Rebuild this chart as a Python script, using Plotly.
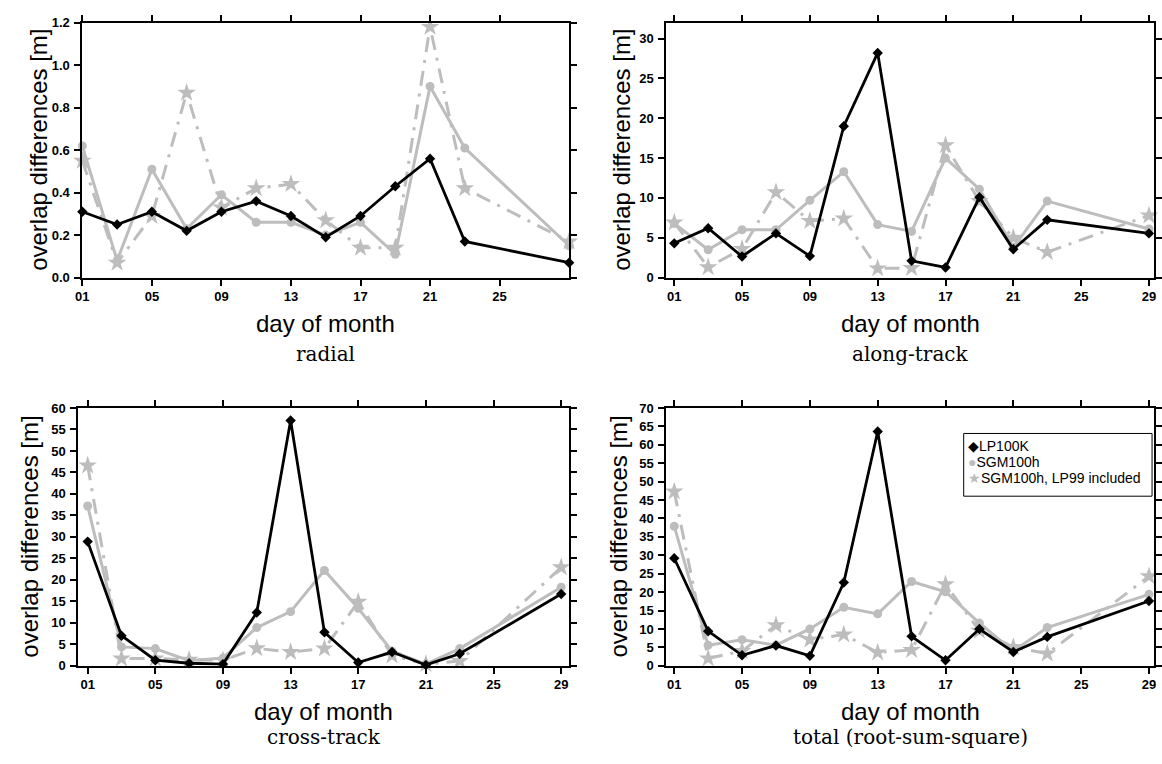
import plotly.graph_objects as go

days = [1, 3, 5, 7, 9, 11, 13, 15, 17, 19, 21, 23, 29]
tick_days = [1, 5, 9, 13, 17, 21, 25, 29]
tick_text = ["01", "05", "09", "13", "17", "21", "25", "29"]

series_names = ["LP100K", "SGM100h", "SGM100h, LP99 included"]

# radial
radial_lp100k = [0.31, 0.25, 0.31, 0.22, 0.31, 0.36, 0.29, 0.19, 0.29, 0.43, 0.56, 0.17, 0.07]
radial_sgm = [0.62, 0.08, 0.51, 0.23, 0.39, 0.26, 0.26, 0.20, 0.26, 0.11, 0.90, 0.61, 0.15]
radial_sgm_lp99 = [0.55, 0.07, 0.29, 0.87, 0.33, 0.42, 0.44, 0.27, 0.14, 0.14, 1.18, 0.42, 0.17]

# along-track
along_lp100k = [4.3, 6.2, 2.65, 5.55, 2.7, 19.0, 28.2, 2.1, 1.27, 10.1, 3.55, 7.25, 5.55]
along_sgm = [6.8, 3.5, 6.0, 6.0, 9.7, 13.3, 6.65, 5.8, 15.0, 11.1, 3.8, 9.6, 6.1]
along_sgm_lp99 = [6.9, 1.3, 3.6, 10.7, 7.1, 7.4, 1.15, 1.2, 16.6, 9.6, 5.0, 3.2, 7.8]

# cross-track
cross_lp100k = [28.9, 7.0, 1.3, 0.6, 0.4, 12.4, 57.1, 7.8, 0.76, 3.2, 0.2, 2.8, 16.7]
cross_sgm = [37.2, 4.4, 4.0, 1.2, 1.8, 8.9, 12.6, 22.2, 13.4, 3.4, 0.4, 4.0, 18.3]
cross_sgm_lp99 = [46.6, 1.7, 1.7, 1.4, 1.3, 4.05, 3.2, 4.0, 14.9, 2.4, 0.4, 1.1, 22.9]

# total (root-sum-square)
total_lp100k = [29.2, 9.4, 2.85, 5.5, 2.7, 22.6, 63.6, 8.0, 1.5, 10.0, 3.75, 7.85, 17.6]
total_sgm = [37.9, 5.6, 7.1, 5.6, 10.0, 15.9, 14.1, 22.9, 20.1, 11.6, 4.0, 10.4, 19.4]
total_sgm_lp99 = [47.3, 2.0, 4.0, 11.0, 7.1, 8.5, 3.6, 4.3, 22.1, 9.5, 5.1, 3.3, 24.3]

W, H = 1162, 764


def px(x):
    return x / W


def py(y):
    return 1 - y / H


BLACK = "#000000"
GRAY = "#bdbdbd"

panels = [
    dict(title="radial", data=(radial_lp100k, radial_sgm, radial_sgm_lp99),
         x0=76, x1=567, y0=16, y1=276, xr=[1, 29], yr=[0, 1.2], dt=0.2, fmt=".1f",
         tv=tick_days[:-1], tt=tick_text[:-1], ytx=31, sub=78),
    dict(title="along-track", data=(along_lp100k, along_sgm, along_sgm_lp99),
         x0=665, x1=1157, y0=16, y1=276, xr=[0.53, 29.3], yr=[0, 32], dt=5, fmt="d",
         tv=tick_days, tt=tick_text, ytx=619, sub=78),
    dict(title="cross-track", data=(cross_lp100k, cross_sgm, cross_sgm_lp99),
         x0=72, x1=567, y0=409, y1=672, xr=[0.45, 29.47], yr=[0, 60], dt=5, fmt="d",
         tv=tick_days, tt=tick_text, ytx=23, sub=73),
    dict(title="total (root-sum-square)", data=(total_lp100k, total_sgm, total_sgm_lp99),
         x0=665, x1=1157, y0=409, y1=672, xr=[0.53, 29.3], yr=[0, 70], dt=5, fmt="d",
         tv=tick_days, tt=tick_text, ytx=617, sub=73),
]

fig = go.Figure()
annotations = []
shapes = []
tickfont = dict(family="Liberation Sans, Arial", size=13, color="black", weight="bold")
labfont = dict(family="Liberation Sans, Arial", size=24, color="black")
subfont = dict(family="DejaVu Serif, Liberation Serif", size=20, color="black")

for i, p in enumerate(panels):
    n = "" if i == 0 else str(i + 1)
    xa, ya = "x" + n, "y" + n
    lp, sgm, lp99 = p["data"]
    fig.add_trace(go.Scatter(x=days, y=lp99, xaxis=xa, yaxis=ya, mode="lines+markers",
                             line=dict(color=GRAY, width=3, dash="15px,8px,3px,8px"),
                             marker=dict(symbol="star", size=14, color=GRAY),
                             showlegend=False, cliponaxis=False, name=series_names[2]))
    fig.add_trace(go.Scatter(x=days, y=sgm, xaxis=xa, yaxis=ya, mode="lines+markers",
                             line=dict(color=GRAY, width=3),
                             marker=dict(symbol="circle", size=9, color=GRAY),
                             showlegend=False, cliponaxis=False, name=series_names[1]))
    fig.add_trace(go.Scatter(x=days, y=lp, xaxis=xa, yaxis=ya, mode="lines+markers",
                             line=dict(color=BLACK, width=2.8),
                             marker=dict(symbol="diamond", size=8, color=BLACK),
                             showlegend=False, cliponaxis=False, name=series_names[0]))
    common = dict(showline=True, linecolor="black", linewidth=2, mirror="ticks",
                  ticks="outside", ticklen=6, tickwidth=2, tickcolor="black",
                  showgrid=False, zeroline=False, tickfont=tickfont)
    fig.update_layout(**{
        "xaxis" + n: dict(domain=[px(p["x0"]), px(p["x1"])], range=p["xr"],
                          tickvals=p["tv"], ticktext=p["tt"], anchor=ya, **common),
        "yaxis" + n: dict(domain=[py(p["y1"]), py(p["y0"])], range=p["yr"],
                          dtick=p["dt"], tick0=0, tickformat=p["fmt"], anchor=xa,
                          ticklabelstandoff=2, **common),
    })
    cx = px((p["x0"] + p["x1"]) / 2)
    annotations.append(dict(text="overlap differences [m]", x=px(p["ytx"]),
                            y=py((p["y0"] + p["y1"]) / 2), xref="paper", yref="paper",
                            textangle=-90, showarrow=False, font=labfont,
                            xanchor="center", yanchor="middle"))
    annotations.append(dict(text="day of month", x=cx, y=py(p["y1"] + 47),
                            xref="paper", yref="paper", showarrow=False, font=labfont,
                            xanchor="center", yanchor="middle"))
    annotations.append(dict(text=p["title"], x=cx, y=py(p["y1"] + p["sub"]),
                            xref="paper", yref="paper", showarrow=False, font=subfont,
                            xanchor="center", yanchor="middle"))

# legend box (inside the total panel), marker glyph + label per series
lx0, lx1, ly0, ly1 = 965, 1155, 435, 499
shapes.append(dict(type="rect", xref="paper", yref="paper",
                   x0=px(lx0), x1=px(lx1), y0=py(ly1), y1=py(ly0),
                   line=dict(color="black", width=1), fillcolor="white", layer="above"))
leg_glyphs = ["\u25C6", "\u25CF", "\u2605"]
leg_colors = [BLACK, GRAY, GRAY]
leg_y = [448, 464, 480]
for name, g, c, yy in zip(series_names, leg_glyphs, leg_colors, leg_y):
    annotations.append(dict(
        text=f"<span style='color:{c}'>{g}</span>{name}",
        x=px(lx0 + 2), y=py(yy), xref="paper", yref="paper", showarrow=False,
        xanchor="left", yanchor="middle",
        font=dict(family="Liberation Sans, Arial", size=14, color="black")))

fig.update_layout(
    width=W, height=H, margin=dict(l=0, r=0, t=0, b=0),
    paper_bgcolor="white", plot_bgcolor="white",
    annotations=annotations, shapes=shapes, showlegend=False,
)

# remove the default page margin so the figure sits at the window's top-left corner
fig.write_html("out.html",
               config={"displayModeBar": False},
               post_script="document.body.style.margin='0px';"
                           "document.body.style.overflow='hidden';")
